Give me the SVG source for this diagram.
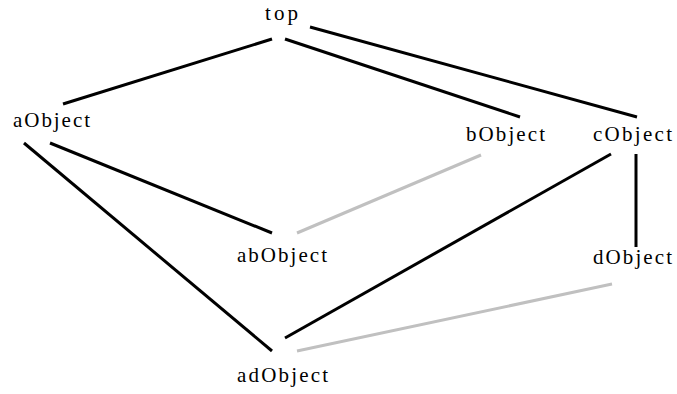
<svg xmlns="http://www.w3.org/2000/svg" width="677" height="394" viewBox="0 0 677 394">
  <style>
    .bg { fill: #ffffff; }
    .label { font-family: "Liberation Serif", "Times New Roman", serif; font-size: 21px; fill: #000000; }
    .edge { stroke: #000000; stroke-width: 3; stroke-linecap: butt; fill: none; }
    .weak { stroke: #c0c0c0; stroke-width: 3; stroke-linecap: butt; fill: none; }
  </style>
  <rect class="bg" x="0" y="0" width="677" height="394"/>

  <!-- connectors between objects -->
  <g id="connectors">
    <line class="edge" x1="272" y1="39" x2="63" y2="104"/>
    <line class="edge" x1="285" y1="39" x2="520" y2="117"/>
    <line class="edge" x1="310" y1="27" x2="637" y2="117"/>
    <line class="edge" x1="50" y1="143" x2="272" y2="233"/>
    <line class="edge" x1="24" y1="143" x2="272" y2="351"/>
    <line class="edge" x1="611" y1="154" x2="285" y2="338"/>
    <line class="edge" x1="636" y1="154" x2="636" y2="247"/>
    <line class="weak" x1="481" y1="155" x2="297" y2="233"/>
    <line class="weak" x1="612" y1="284" x2="297" y2="351"/>
  </g>

  <!-- object nodes -->
  <g id="top"><text class="label" x="265" y="20" textLength="33" lengthAdjust="spacing">top</text></g>
  <g id="aObject"><text class="label" x="13" y="127" textLength="77" lengthAdjust="spacing">aObject</text></g>
  <g id="bObject"><text class="label" x="466" y="141" textLength="79" lengthAdjust="spacing">bObject</text></g>
  <g id="cObject"><text class="label" x="593" y="141" textLength="79" lengthAdjust="spacing">cObject</text></g>
  <g id="abObject"><text class="label" x="237" y="262" textLength="90" lengthAdjust="spacing">abObject</text></g>
  <g id="dObject"><text class="label" x="593" y="264" textLength="79" lengthAdjust="spacing">dObject</text></g>
  <g id="adObject"><text class="label" x="237" y="382" textLength="91" lengthAdjust="spacing">adObject</text></g>
</svg>
